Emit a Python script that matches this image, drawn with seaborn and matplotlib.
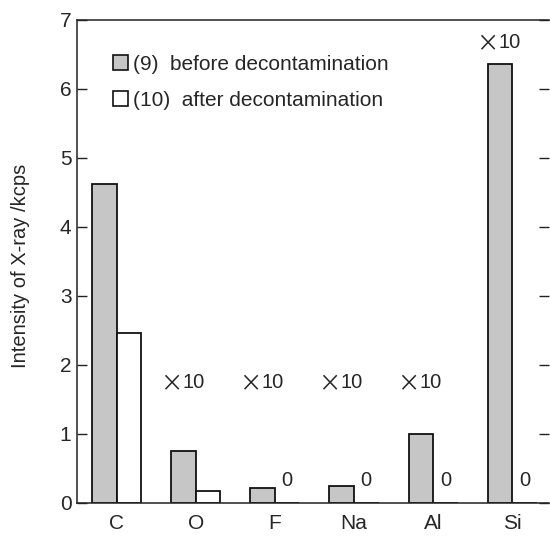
import matplotlib
matplotlib.use("Agg")
import matplotlib.pyplot as plt
import seaborn as sns
import pandas as pd
from matplotlib.patches import Patch

elements = ["C", "O", "F", "Na", "Al", "Si"]
before = [4.63, 0.75, 0.21, 0.24, 1.00, 6.36]
after = [2.46, 0.18, 0.0, 0.0, 0.0, 0.0]
series_names = ["(9)  before decontamination", "(10)  after decontamination"]
scale_factor = [None, "10", "10", "10", "10", "10"]
zero_note = ["", "", "0", "0", "0", "0"]

df = pd.DataFrame({
    "element": elements * 2,
    "value": before + after,
    "series": [series_names[0]] * len(elements) + [series_names[1]] * len(elements),
})

sns.set_theme(style="ticks")
plt.rcParams["font.family"] = ["Liberation Sans", "DejaVu Sans"]

fig = plt.figure(figsize=(5.5, 5.36), dpi=100)
ax = fig.add_axes([0.14, 0.0616, 0.859, 0.9011])

colors = {series_names[0]: "#c6c6c6", series_names[1]: "#ffffff"}
sns.barplot(data=df, x="element", y="value", hue="series", order=elements,
            hue_order=series_names, palette=colors, width=0.62,
            edgecolor="#111111", linewidth=1.3, saturation=1, ax=ax, legend=False)

ax.set_ylim(0, 7)
ax.set_xlim(-0.5, 5.47)
ax.set_yticks(range(0, 8))
ax.set_xlabel("")
ax.set_ylabel("Intensity of X-ray /kcps", fontsize=14.5)
ax.yaxis.set_label_coords(-0.10, 0.49)
ax.tick_params(axis="y", direction="in", length=7, width=1, labelsize=15,
               right=True, pad=4, color="#222222")
ax.tick_params(axis="x", length=0, labelsize=15, pad=8)
for s in ["left", "top", "bottom"]:
    ax.spines[s].set_linewidth(1.1)
    ax.spines[s].set_color("#222222")
ax.spines["right"].set_visible(False)

# annotations positioned from the bars themselves
nb = len(elements)
bars = ax.patches
before_bars = bars[:nb]
after_bars = bars[nb:2 * nb]
for i in range(nb):
    if scale_factor[i]:
        b = before_bars[i]
        cx = b.get_x() + b.get_width() / 2
        y = 6.67 if before[i] > 3 else 1.75
        ax.annotate("×", (cx, y), xytext=(-1, -1.8), textcoords="offset points",
                    ha="right", va="center", fontsize=16,
                    family=["Noto Sans CJK JP", "DejaVu Sans"])
        ax.annotate(scale_factor[i], (cx, y), xytext=(-1, 0), textcoords="offset points",
                    ha="left", va="center", fontsize=14.5)
    if zero_note[i]:
        a = after_bars[i]
        cx = a.get_x() + a.get_width() / 2
        ax.text(cx, 0.33, zero_note[i], ha="center", va="center", fontsize=14.5)

handles = [Patch(facecolor=colors[n], edgecolor="#111111", linewidth=1.2) for n in series_names]
ax.legend(handles, series_names, loc="upper left", bbox_to_anchor=(0.076, 0.928),
          frameon=False, fontsize=15, handlelength=0.72, handleheight=0.72,
          handletextpad=0.25, labelspacing=0.83, borderaxespad=0, borderpad=0)

fig.savefig("out.png", dpi=100)
